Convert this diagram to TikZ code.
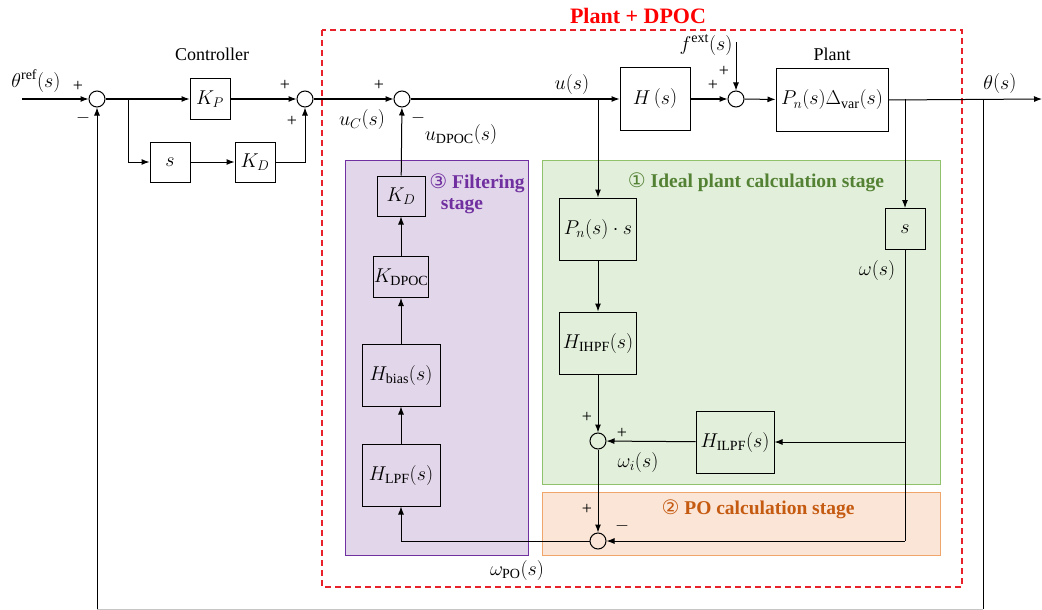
\RequirePackage{fix-cm}
\documentclass[tikz,border=0pt]{standalone}
\usepackage{fontspec}
\setmainfont{Liberation Serif}
\newfontfamily\dejavu{DejaVu Sans}
\usetikzlibrary{arrows.meta,calc}
\definecolor{pfill}{HTML}{E2D6EA}
\definecolor{pline}{HTML}{7030A0}
\definecolor{gfill}{HTML}{E2EFDA}
\definecolor{gline}{HTML}{8FC26A}
\definecolor{gtext}{HTML}{548235}
\definecolor{ofill}{HTML}{FBE5D6}
\definecolor{oline}{HTML}{F0A56A}
\definecolor{otext}{HTML}{C55A11}
\definecolor{rline}{HTML}{E8202A}
\newcommand{\circnum}[1]{{\dejavu\mdseries\fontsize{20}{22}\selectfont #1}}
\newcommand{\pa}[1]{\bigl(#1\bigr)}
\begin{document}
\begin{tikzpicture}[x=1pt,y=-1pt,
  font=\fontsize{18}{21}\selectfont,
  line width=1pt,
  blk/.style={draw, line width=1pt, inner sep=0pt, font=\fontsize{20}{23}\selectfont},
  sumj/.style={circle, draw, line width=1pt, minimum size=16pt, inner sep=0pt},
  arr/.style={-{Latex[length=8pt,width=6pt]}},
  sgn/.style={font=\fontsize{18}{20}\selectfont, inner sep=0pt},
  lbl/.style={font=\fontsize{20}{23}\selectfont, inner sep=0pt},
  ttl/.style={font=\fontsize{19.5}{22}\selectfont\bfseries, inner sep=0pt}]
\useasboundingbox (0,0) rectangle (1042,610);
% regions
\filldraw[fill=pfill, draw=pline, line width=1pt] (345,160) rectangle (528,555);
\filldraw[fill=gfill, draw=gline, line width=1pt] (542,160) rectangle (940,484);
\filldraw[fill=ofill, draw=oline, line width=1pt] (542,492) rectangle (940,555);
\draw[rline, dash pattern=on 6pt off 4pt, line width=1.2pt] (322,30) rectangle (962,587);
% titles
\node[ttl, text=red, font=\fontsize{22}{24}\selectfont\bfseries] (tdp) at (638,16) {Plant + DPOC};
\node[ttl, text=pline] (tfs1) at (477,183) {\circnum{③} Filtering};
\node[ttl, text=pline] (tfs2) at (462,206) {stage};
\node[ttl, text=gtext] (tgs) at (756,182) {\circnum{①} Ideal plant calculation stage};
\node[ttl, text=otext] (tos) at (758,509) {\circnum{②} PO calculation stage};
\node[inner sep=0pt] (tctl) at (212,54) {Controller};
\node[inner sep=0pt] (tpl) at (832,54) {Plant};
% main path nodes
\node[sumj] (s1) at (97,99) {};
\node[blk, minimum width=40pt, minimum height=40pt] (kp) at (210,99) {$K_P$};
\node[sumj] (s2) at (305,99) {};
\node[blk, minimum width=40pt, minimum height=40pt] (sb) at (170,162) {$s$};
\node[blk, minimum width=40pt, minimum height=40pt] (kd) at (255,162) {$K_D$};
\node[sumj] (s3) at (402,99) {};
\node[blk, minimum width=70pt, minimum height=62pt] (H) at (655,99) {$H\,\pa{s}$};
\node[sumj] (s4) at (736,99) {};
\node[blk, minimum width=112pt, minimum height=62pt] (P) at (832,100) {$P_n\pa{s}\Delta_{\mathrm{var}}\pa{s}$};
% filtering stage
\node[blk, minimum width=48pt, minimum height=40pt] (kd2) at (401,196) {$K_D$};
\node[blk, minimum width=48pt, minimum height=41pt] (kdpoc) at (401,277) {$K_{\mathrm{DPOC}}$};
\node[blk, minimum width=78pt, minimum height=62pt] (hbias) at (401,375) {$H_{\mathrm{bias}}\pa{s}$};
\node[blk, minimum width=78pt, minimum height=62pt] (hlpf) at (401,475) {$H_{\mathrm{LPF}}\pa{s}$};
% ideal plant stage
\node[blk, minimum width=77pt, minimum height=62pt] (pns) at (598,229) {$P_n\pa{s}\cdot s$};
\node[blk, minimum width=77pt, minimum height=62pt] (hihpf) at (598,343) {$H_{\mathrm{IHPF}}\pa{s}$};
\node[sumj] (s5) at (598,441) {};
\node[blk, minimum width=78pt, minimum height=62pt] (hilpf) at (735,442) {$H_{\mathrm{ILPF}}\pa{s}$};
\node[blk, minimum width=40pt, minimum height=41pt] (sr) at (905,229) {$s$};
% PO stage
\node[sumj] (s6) at (598,541) {};
% coordinates
\coordinate (in) at (22,99);
\coordinate (b1) at (128,99);
\coordinate (fe) at (736,42);
\coordinate (bu) at (598,99);
\coordinate (bth) at (905,99);
\coordinate (bf) at (983,99);
\coordinate (out) at (1042,99);
\coordinate (c1) at (905,541);
\coordinate (c2) at (905,442);
\coordinate (fb1) at (983,609);
\coordinate (fb2) at (97,609);
% connectors
\draw[arr] (in) -- (s1);
\draw[arr] (s1) -- (kp);
\draw[arr] (b1) |- (sb);
\draw[arr] (sb) -- (kd);
\draw[arr] (kd) -| (s2);
\draw[arr] (kp) -- (s2);
\draw[arr] (s2) -- (s3);
\draw[arr] (s3) -- (H);
\draw[arr] (H) -- (s4);
\draw[arr] (fe) -- (s4);
\draw[arr] (s4) -- (P);
\draw[arr] (P.east) -- (out);
\draw[arr] (bu) -- (pns);
\draw[arr] (pns) -- (hihpf);
\draw[arr] (hihpf) -- (s5);
\draw[arr] (bth) -- (sr);
\draw (sr) -- (c1);
\draw[arr] (c1) -- (s6);
\draw[arr] (c2) -- (hilpf);
\draw[arr] (hilpf) -- (s5);
\draw[arr] (s5) -- (s6);
\draw[arr] (s6) -| (hlpf);
\draw[arr] (hlpf) -- (hbias);
\draw[arr] (hbias) -- (kdpoc);
\draw[arr] (kdpoc) -- (kd2);
\draw[arr] (kd2) -- (s3);
\draw (bf) -- (fb1);
\draw[gray!45] (fb1) -- (fb2);
\draw[arr] (fb2) -- (s1);
% signal labels
\node[lbl] (lref) at (36,81) {$\theta^{\mathrm{ref}}\pa{s}$};
\node[sgn] (p1) at (78,86) {+};
\node[sgn] (m1) at (83,118) {$-$};
\node[sgn] (p2) at (285,85) {+};
\node[sgn] (p3) at (292,121) {+};
\node[sgn] (p4) at (379,85) {+};
\node[lbl] (luc) at (362,120) {$u_C\pa{s}$};
\node[sgn] (m2) at (418,118) {$-$};
\node[lbl] (ludp) at (461,135) {$u_{\mathrm{DPOC}}\pa{s}$};
\node[lbl] (lu) at (572,85) {$u\pa{s}$};
\node[lbl] (lfe) at (706,45) {$f^{\mathrm{ext}}\pa{s}$};
\node[sgn] (p5) at (724,71) {+};
\node[sgn] (p6) at (713,85) {+};
\node[lbl] (lth) at (1000,84) {$\theta\pa{s}$};
\node[lbl] (lw) at (877,270) {$\omega\pa{s}$};
\node[sgn] (p7) at (587,417) {+};
\node[sgn] (p8) at (622,433) {+};
\node[lbl] (lwi) at (638,462) {$\omega_i\pa{s}$};
\node[sgn] (p9) at (587,509) {+};
\node[sgn] (m3) at (622,526) {$-$};
\node[lbl] (lwpo) at (517,570) {$\omega_{\mathrm{PO}}\pa{s}$};
\end{tikzpicture}
\end{document}
